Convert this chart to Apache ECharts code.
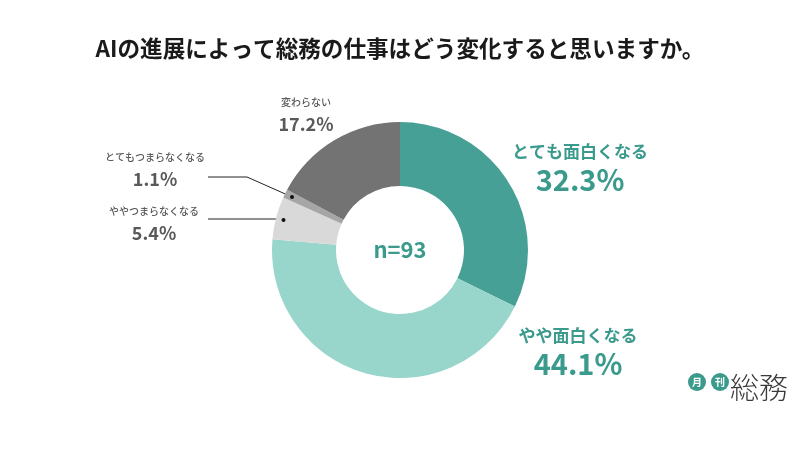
<!DOCTYPE html>
<html><head><meta charset="utf-8">
<script src="https://cdn.jsdelivr.net/npm/echarts@6/dist/echarts.min.js"></script>
<style>html,body{margin:0;padding:0;background:#fff}#c{width:800px;height:450px}</style>
</head><body><div id="c"></div>
<script>
const titleText = 'AIの進展によって総務の仕事はどう変化すると思いますか。';
const categories = ['とても面白くなる', 'やや面白くなる', 'ややつまらなくなる', 'とてもつまらなくなる', '変わらない'];
const values = [32.3, 44.1, 5.4, 1.1, 17.2];
const sampleLabel = 'n=93';

const FONT = '"Noto Sans CJK JP", "Noto Sans", sans-serif';
const colors = ['#46A096', '#98D5CB', '#D9D9D9', '#A6A6A6', '#737373'];
const TEAL = '#3A9A8C';
const GREY = '#595959';
const CX = 400, CY = 250, R_IN = 64, R_OUT = 128;

// label block centres (layout only)
const labelPos = [[580, 168], [578, 352], [154, 223], [155, 169], [306, 114]];
// leader line horizontal segments: [y, midX]
const leader = {2: [219, 282], 3: [177, 247]};

const total = values.reduce((a, b) => a + b, 0);
function anchorFor(i) {
  let before = 0;
  for (let k = 0; k < i; k++) before += values[k];
  const mid = (before + values[i] / 2) / total * Math.PI * 2;
  const r = R_OUT * 0.94;
  return [CX + Math.sin(mid) * r, CY - Math.cos(mid) * r];
}

const chart = echarts.init(document.getElementById('c'));
const data = categories.map((n, i) => {
  const big = i < 2;
  return {
    name: n, value: values[i],
    itemStyle: {color: colors[i]},
    labelLine: {show: leader[i] !== undefined, lineStyle: {color: '#222', width: 1}},
    label: {
      formatter: '{n|{b}}\n{p|{c}%}',
      rich: big ? {
        n: {fontFamily: FONT, fontSize: 17, fontWeight: 'bold', color: TEAL, lineHeight: 24, align: 'center'},
        p: {fontFamily: FONT, fontSize: 29, fontWeight: 'bold', color: TEAL, lineHeight: 32, align: 'center'}
      } : {
        n: {fontFamily: FONT, fontSize: 10, fontWeight: 500, color: GREY, lineHeight: 20, align: 'center'},
        p: {fontFamily: FONT, fontSize: 18, fontWeight: 'bold', color: GREY, lineHeight: 24, align: 'center'}
      }
    }
  };
});

const dots = [];
Object.keys(leader).forEach(k => {
  const a = anchorFor(+k);
  dots.push({type: 'circle', shape: {cx: a[0], cy: a[1], r: 2}, style: {fill: '#111'}, z: 100});
});

chart.setOption({
  animation: false,
  title: {
    text: titleText, left: 'center', top: 32,
    textStyle: {fontFamily: FONT, fontSize: 22.6, fontWeight: 'bold', color: '#1a1a1a'}
  },
  graphic: dots.concat([
    {type: 'text', style: {text: sampleLabel, x: CX, y: CY, align: 'center', verticalAlign: 'middle', font: 'bold 22px ' + FONT, fill: TEAL}},
    {type: 'circle', shape: {cx: 697, cy: 382, r: 9}, style: {fill: TEAL}},
    {type: 'circle', shape: {cx: 720, cy: 382, r: 9}, style: {fill: TEAL}},
    {type: 'text', style: {text: '月', x: 697, y: 382, align: 'center', verticalAlign: 'middle', font: 'bold 10px ' + FONT, fill: '#fff'}},
    {type: 'text', style: {text: '刊', x: 720, y: 382, align: 'center', verticalAlign: 'middle', font: 'bold 10px ' + FONT, fill: '#fff'}},
    {type: 'text', style: {text: '総務', x: 759, y: 388, align: 'center', verticalAlign: 'middle', font: '300 29px ' + FONT, fill: '#3a3a3a'}}
  ]),
  series: [{
    type: 'pie',
    center: [CX, CY],
    radius: [R_IN, R_OUT],
    startAngle: 90,
    clockwise: true,
    avoidLabelOverlap: false,
    label: {show: true, position: 'outside'},
    labelLine: {show: false},
    labelLayout: function (p) {
      const i = p.dataIndex;
      const res = {x: labelPos[i][0], y: labelPos[i][1], align: 'center', verticalAlign: 'middle'};
      if (leader[i] !== undefined) {
        const a = anchorFor(i);
        res.labelLinePoints = [[a[0], a[1]], [leader[i][1], leader[i][0]], [208, leader[i][0]]];
      }
      return res;
    },
    emphasis: {disabled: true},
    data: data
  }]
});
</script></body></html>
